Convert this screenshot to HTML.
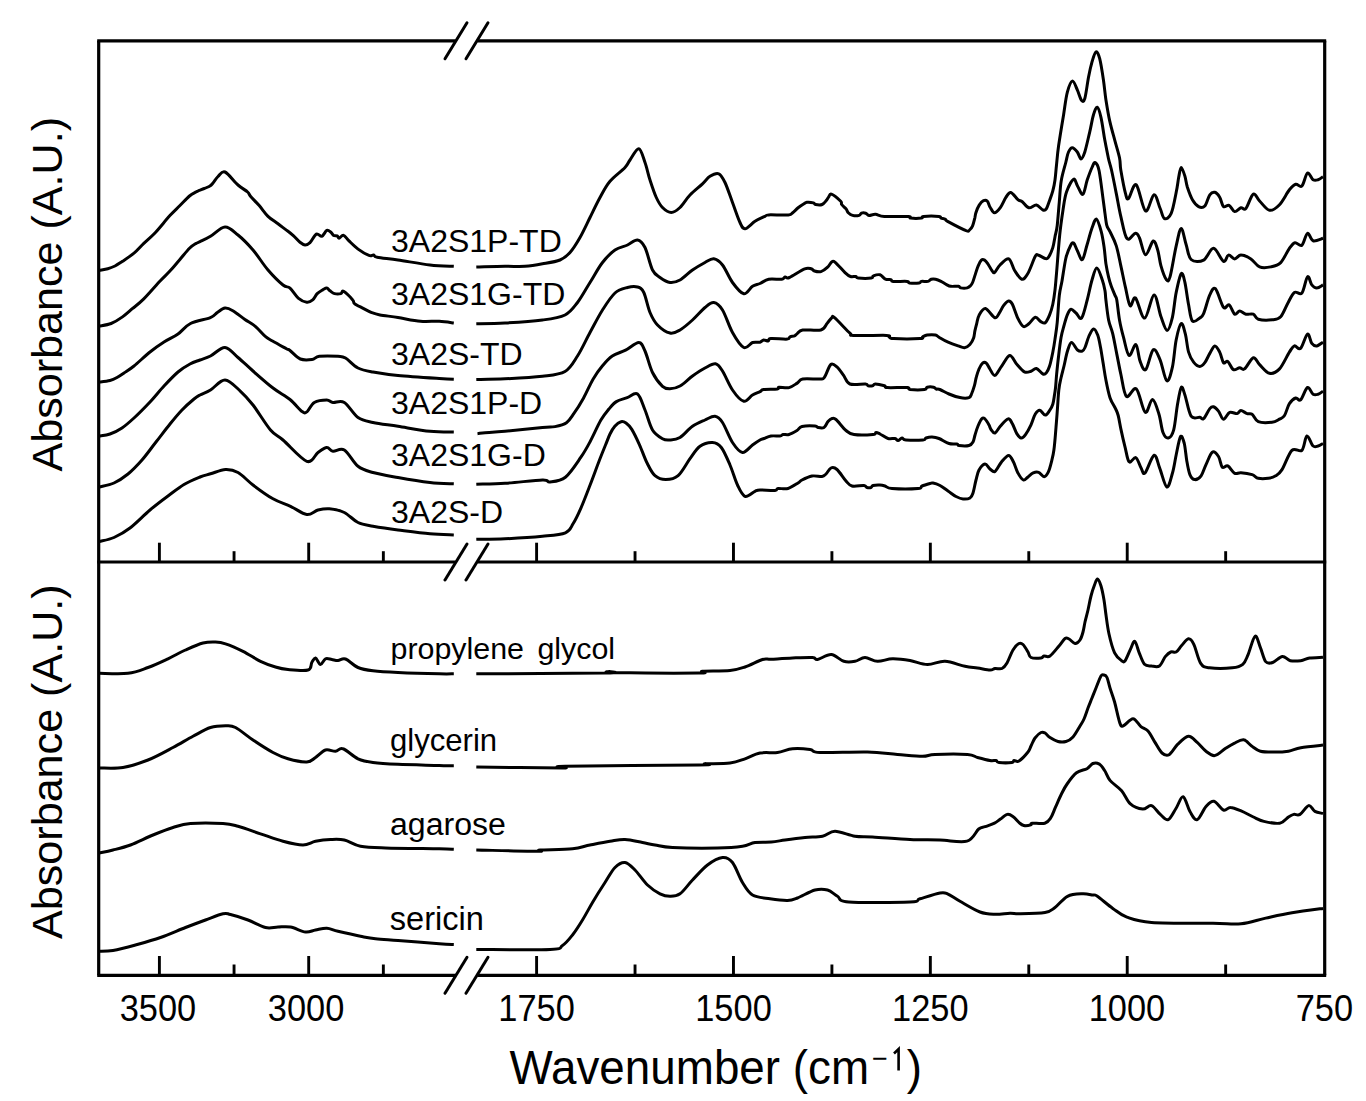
<!DOCTYPE html>
<html><head><meta charset="utf-8"><style>
html,body{margin:0;padding:0;background:#fff;width:1366px;height:1101px;overflow:hidden}
svg{display:block;font-family:"Liberation Sans",sans-serif}
</style></head><body>
<svg width="1366" height="1101" viewBox="0 0 1366 1101">
<rect width="1366" height="1101" fill="#fff"/>
<line x1="97.2" y1="40.8" x2="455.5" y2="40.8" stroke="#000" stroke-width="3.2"/>
<line x1="477.5" y1="40.8" x2="1326.2" y2="40.8" stroke="#000" stroke-width="3.2"/>
<line x1="97.2" y1="562.0" x2="455.5" y2="562.0" stroke="#000" stroke-width="3.2"/>
<line x1="477.5" y1="562.0" x2="1326.2" y2="562.0" stroke="#000" stroke-width="3.2"/>
<line x1="97.2" y1="975.3" x2="455.5" y2="975.3" stroke="#000" stroke-width="3.2"/>
<line x1="477.5" y1="975.3" x2="1326.2" y2="975.3" stroke="#000" stroke-width="3.2"/>
<line x1="98.7" y1="40.8" x2="98.7" y2="975.3" stroke="#000" stroke-width="3.2"/>
<line x1="1324.7" y1="40.8" x2="1324.7" y2="975.3" stroke="#000" stroke-width="3.2"/>
<line x1="445.0" y1="58.8" x2="467.0" y2="22.799999999999997" stroke="#000" stroke-width="3" stroke-linecap="round"/>
<line x1="466.0" y1="58.8" x2="488.0" y2="22.799999999999997" stroke="#000" stroke-width="3" stroke-linecap="round"/>
<line x1="445.0" y1="580.0" x2="467.0" y2="544.0" stroke="#000" stroke-width="3" stroke-linecap="round"/>
<line x1="466.0" y1="580.0" x2="488.0" y2="544.0" stroke="#000" stroke-width="3" stroke-linecap="round"/>
<line x1="445.0" y1="993.3" x2="467.0" y2="957.3" stroke="#000" stroke-width="3" stroke-linecap="round"/>
<line x1="466.0" y1="993.3" x2="488.0" y2="957.3" stroke="#000" stroke-width="3" stroke-linecap="round"/>
<line x1="159.4" y1="562.0" x2="159.4" y2="542.7" stroke="#000" stroke-width="2.9"/>
<line x1="308.7" y1="562.0" x2="308.7" y2="542.7" stroke="#000" stroke-width="2.9"/>
<line x1="536.6" y1="562.0" x2="536.6" y2="542.7" stroke="#000" stroke-width="2.9"/>
<line x1="733.475" y1="562.0" x2="733.475" y2="542.7" stroke="#000" stroke-width="2.9"/>
<line x1="930.35" y1="562.0" x2="930.35" y2="542.7" stroke="#000" stroke-width="2.9"/>
<line x1="1127.225" y1="562.0" x2="1127.225" y2="542.7" stroke="#000" stroke-width="2.9"/>
<line x1="234.05" y1="562.0" x2="234.05" y2="551.2" stroke="#000" stroke-width="2.9"/>
<line x1="383.35" y1="562.0" x2="383.35" y2="551.2" stroke="#000" stroke-width="2.9"/>
<line x1="635.0375" y1="562.0" x2="635.0375" y2="551.2" stroke="#000" stroke-width="2.9"/>
<line x1="831.9125" y1="562.0" x2="831.9125" y2="551.2" stroke="#000" stroke-width="2.9"/>
<line x1="1028.7875" y1="562.0" x2="1028.7875" y2="551.2" stroke="#000" stroke-width="2.9"/>
<line x1="1225.6625" y1="562.0" x2="1225.6625" y2="551.2" stroke="#000" stroke-width="2.9"/>
<line x1="159.4" y1="975.3" x2="159.4" y2="956.0" stroke="#000" stroke-width="2.9"/>
<line x1="308.7" y1="975.3" x2="308.7" y2="956.0" stroke="#000" stroke-width="2.9"/>
<line x1="536.6" y1="975.3" x2="536.6" y2="956.0" stroke="#000" stroke-width="2.9"/>
<line x1="733.475" y1="975.3" x2="733.475" y2="956.0" stroke="#000" stroke-width="2.9"/>
<line x1="930.35" y1="975.3" x2="930.35" y2="956.0" stroke="#000" stroke-width="2.9"/>
<line x1="1127.225" y1="975.3" x2="1127.225" y2="956.0" stroke="#000" stroke-width="2.9"/>
<line x1="234.05" y1="975.3" x2="234.05" y2="964.5" stroke="#000" stroke-width="2.9"/>
<line x1="383.35" y1="975.3" x2="383.35" y2="964.5" stroke="#000" stroke-width="2.9"/>
<line x1="635.0375" y1="975.3" x2="635.0375" y2="964.5" stroke="#000" stroke-width="2.9"/>
<line x1="831.9125" y1="975.3" x2="831.9125" y2="964.5" stroke="#000" stroke-width="2.9"/>
<line x1="1028.7875" y1="975.3" x2="1028.7875" y2="964.5" stroke="#000" stroke-width="2.9"/>
<line x1="1225.6625" y1="975.3" x2="1225.6625" y2="964.5" stroke="#000" stroke-width="2.9"/>
<text transform="translate(157.9 1021) scale(1 1.1)" font-size="34.4" text-anchor="middle">3500</text>
<text transform="translate(306.1 1021) scale(1 1.1)" font-size="34.4" text-anchor="middle">3000</text>
<text transform="translate(536.6 1021) scale(1 1.1)" font-size="34.4" text-anchor="middle">1750</text>
<text transform="translate(733.5 1021) scale(1 1.1)" font-size="34.4" text-anchor="middle">1500</text>
<text transform="translate(930.3 1021) scale(1 1.1)" font-size="34.4" text-anchor="middle">1250</text>
<text transform="translate(1126.9 1021) scale(1 1.1)" font-size="34.4" text-anchor="middle">1000</text>
<text transform="translate(1324.4 1021) scale(1 1.1)" font-size="34.4" text-anchor="middle">750</text>
<text transform="translate(509.5 1084.3) scale(1 1.055)" font-size="45.8"><tspan>Wavenumber (cm</tspan><tspan font-size="27" dx="3" dy="-15">−</tspan><tspan dy="15" dx="19">)</tspan></text>
<path d="M898.6 1070.6 V1049 L894 1053.5" fill="none" stroke="#000" stroke-width="2.6" stroke-linejoin="miter"/>
<text transform="translate(62 294.25) rotate(-90)" x="0" y="0" font-size="43.1" text-anchor="middle">Absorbance (A.U.)</text>
<text transform="translate(62 761.65) rotate(-90)" x="0" y="0" font-size="43.1" text-anchor="middle">Absorbance (A.U.)</text>
<text x="391" y="251.5" font-size="32">3A2S1P-TD</text>
<text x="391" y="305" font-size="32">3A2S1G-TD</text>
<text x="391" y="364.5" font-size="32">3A2S-TD</text>
<text x="391" y="413.6" font-size="32">3A2S1P-D</text>
<text x="391" y="466.2" font-size="32">3A2S1G-D</text>
<text x="391" y="523.3" font-size="32">3A2S-D</text>
<text x="390.5" y="659" font-size="30.4" word-spacing="5">propylene glycol</text>
<text x="390" y="750.5" font-size="31.1" word-spacing="5">glycerin</text>
<text x="390" y="835.2" font-size="32.1" word-spacing="5">agarose</text>
<text x="389.8" y="929.6" font-size="32.6" word-spacing="5">sericin</text>
<path d="M99.5 270.3 C100.9 270.0 105.2 269.4 107.8 268.7 C110.4 268.0 112.5 267.2 115.0 266.0 C117.5 264.8 119.3 263.4 122.5 261.3 C125.7 259.2 130.4 256.2 134.0 253.2 C137.6 250.2 140.3 246.8 143.8 243.4 C147.3 240.0 150.8 237.3 155.2 232.7 C159.5 228.1 165.8 220.1 169.9 215.6 C174.0 211.1 176.4 209.1 179.7 205.8 C183.0 202.5 186.8 198.3 189.5 196.0 C192.2 193.7 194.3 192.9 196.1 191.9 C197.8 190.9 197.8 191.1 200.0 190.2 C202.2 189.2 207.3 187.4 209.5 186.2 C211.7 185.0 211.6 184.6 213.0 183.0 C214.4 181.4 216.0 178.3 218.0 176.5 C220.0 174.7 221.7 170.6 225.0 172.0 C228.3 173.4 234.2 181.7 238.0 185.0 C241.8 188.3 245.5 190.1 247.6 192.0 C249.7 193.9 248.6 194.1 250.5 196.3 C252.4 198.5 256.1 202.0 259.0 205.3 C261.9 208.6 264.8 213.2 268.0 216.3 C271.2 219.4 274.7 221.3 278.0 223.8 C281.3 226.3 285.4 229.3 288.0 231.3 C290.6 233.3 291.6 234.1 293.6 235.9 C295.6 237.7 298.1 240.8 300.0 242.3 C301.9 243.8 303.3 244.9 305.0 245.0 C306.7 245.1 308.1 244.5 310.0 242.7 C311.9 240.9 314.3 235.2 316.3 234.1 C318.3 233.0 320.1 236.9 321.8 236.3 C323.6 235.7 325.3 231.1 326.8 230.4 C328.3 229.7 329.8 231.5 330.9 232.3 C332.0 233.1 332.6 234.8 333.6 235.4 C334.7 236.0 336.3 235.4 337.2 235.9 C338.1 236.4 337.9 238.3 339.0 238.2 C340.1 238.1 341.9 234.9 343.6 235.4 C345.3 235.9 346.6 238.6 349.0 240.9 C351.4 243.2 354.8 246.7 358.1 249.1 C361.4 251.5 366.4 254.4 369.0 255.4 C371.6 256.4 372.2 254.7 373.6 255.0 C375.0 255.3 373.1 256.4 377.2 257.2 C381.3 258.0 389.2 258.7 398.0 260.0 C406.8 261.3 420.7 263.9 430.0 265.0 C439.3 266.1 449.8 266.1 453.8 266.3 M476.3 267.0 C481.1 266.9 496.9 266.4 505.0 266.3 C513.1 266.2 518.8 266.7 525.0 266.3 C531.2 265.9 536.7 264.9 542.5 263.8 C548.3 262.8 555.4 261.9 560.0 260.0 C564.6 258.1 566.7 256.2 570.0 252.5 C573.3 248.8 576.7 243.3 580.0 237.5 C583.3 231.7 586.7 224.2 590.0 217.5 C593.3 210.8 596.7 203.5 600.0 197.5 C603.3 191.5 605.8 186.3 610.0 181.3 C614.2 176.3 621.7 171.1 625.0 167.5 C628.3 163.9 627.7 163.1 630.0 160.0 C632.3 156.9 636.3 148.4 638.8 148.8 C641.3 149.2 643.1 157.3 645.0 162.5 C646.9 167.7 648.1 174.2 650.0 180.0 C651.9 185.8 654.2 192.9 656.3 197.5 C658.4 202.1 660.0 205.0 662.5 207.5 C665.0 210.0 668.4 212.5 671.3 212.5 C674.2 212.5 676.9 210.4 680.0 207.5 C683.1 204.6 686.2 198.9 690.0 195.0 C693.8 191.1 699.2 186.9 702.5 183.8 C705.8 180.7 707.3 178.0 710.0 176.3 C712.7 174.6 716.3 172.8 718.8 173.8 C721.3 174.8 722.7 177.7 725.0 182.5 C727.3 187.3 730.0 195.8 732.5 202.5 C735.0 209.2 737.9 218.1 740.0 222.5 C742.1 226.9 742.5 229.0 745.0 228.8 C747.5 228.6 751.7 223.4 755.0 221.3 C758.3 219.2 762.7 217.4 765.0 216.3 C767.3 215.2 764.8 215.1 768.7 214.9 C772.6 214.7 784.3 215.3 788.3 214.9 C792.3 214.5 791.1 213.9 792.7 212.7 C794.3 211.5 796.3 209.2 798.1 207.8 C799.9 206.4 802.1 204.9 803.6 204.0 C805.1 203.1 805.3 202.5 806.9 202.3 C808.5 202.1 811.9 202.5 813.4 202.9 C814.9 203.3 814.1 204.2 815.6 204.5 C817.1 204.8 820.3 205.2 822.1 204.5 C823.9 203.8 825.4 201.5 826.5 200.2 C827.6 198.9 827.9 197.9 828.7 196.9 C829.5 195.9 829.4 193.5 831.4 194.2 C833.4 194.9 839.0 199.6 840.7 201.3 C842.4 203.0 840.8 203.2 841.7 204.5 C842.6 205.8 845.0 207.5 846.1 208.9 C847.2 210.3 847.2 211.6 848.3 212.7 C849.4 213.8 850.8 214.9 852.6 215.4 C854.4 215.9 857.7 215.8 859.2 215.4 C860.7 215.0 860.3 213.6 861.4 213.2 C862.5 212.8 864.4 212.8 865.7 213.2 C867.0 213.6 867.4 215.2 869.0 215.4 C870.6 215.6 872.9 214.1 875.5 214.3 C878.1 214.5 878.9 216.1 884.4 216.5 C889.9 216.9 903.9 216.2 908.3 216.5 C912.6 216.8 908.3 217.8 910.5 218.1 C912.7 218.4 919.2 218.4 921.4 218.1 C923.6 217.8 920.7 216.8 923.6 216.5 C926.5 216.2 936.0 216.2 938.9 216.5 C941.8 216.8 939.9 217.7 941.0 218.1 C942.1 218.5 944.3 218.6 945.4 219.2 C946.5 219.8 944.1 219.5 947.6 221.4 C951.1 223.3 962.5 229.2 966.1 230.7 C969.7 232.1 968.3 230.9 969.4 230.1 C970.5 229.3 971.7 227.8 972.6 225.8 C973.5 223.8 974.2 220.3 974.8 218.1 C975.3 215.9 975.2 214.9 975.9 212.7 C976.6 210.5 977.9 207.1 979.2 205.1 C980.5 203.1 982.1 201.3 983.5 200.7 C984.9 200.1 986.3 200.2 987.4 201.3 C988.5 202.4 988.9 205.3 990.1 207.2 C991.3 209.1 992.7 212.7 994.4 212.7 C996.1 212.7 998.6 209.9 1000.5 207.3 C1002.4 204.8 1004.2 199.9 1005.9 197.4 C1007.6 194.9 1008.8 192.1 1010.8 192.5 C1012.8 192.9 1016.0 198.0 1017.9 199.6 C1019.8 201.2 1020.5 200.4 1022.3 201.8 C1024.1 203.2 1026.4 207.2 1028.8 207.8 C1031.2 208.4 1034.0 204.7 1036.4 205.1 C1038.8 205.5 1041.3 209.4 1043.0 210.0 C1044.7 210.6 1045.2 210.5 1046.3 208.9 C1047.4 207.3 1048.4 203.7 1049.5 200.7 C1050.6 197.7 1051.9 194.3 1052.8 190.9 C1053.7 187.5 1054.4 184.3 1055.0 180.0 C1055.6 175.7 1055.9 170.7 1056.5 165.0 C1057.1 159.3 1057.4 154.2 1058.6 145.8 C1059.8 137.4 1062.1 123.6 1063.6 114.7 C1065.0 105.8 1065.8 97.9 1067.3 92.3 C1068.8 86.7 1070.6 81.5 1072.3 81.1 C1074.0 80.7 1075.8 86.6 1077.3 89.8 C1078.8 93.0 1080.3 99.0 1081.6 100.4 C1082.8 101.9 1083.6 102.3 1084.8 98.5 C1086.0 94.7 1087.3 83.5 1088.5 77.3 C1089.7 71.1 1091.0 65.5 1092.2 61.2 C1093.5 57.0 1094.8 52.2 1096.0 51.8 C1097.2 51.4 1098.5 54.0 1099.7 58.7 C1100.9 63.4 1102.4 73.0 1103.4 79.8 C1104.4 86.6 1104.9 92.8 1105.9 99.7 C1107.0 106.6 1108.2 114.2 1109.7 120.9 C1111.2 127.6 1112.9 133.4 1114.6 139.6 C1116.2 145.8 1118.6 153.1 1119.6 158.2 C1120.6 163.3 1119.8 164.2 1120.8 170.0 C1121.8 175.8 1124.1 188.3 1125.4 193.1 C1126.7 197.8 1126.7 199.9 1128.5 198.5 C1130.3 197.1 1133.4 182.6 1136.2 184.7 C1139.0 186.8 1142.5 209.2 1145.5 210.9 C1148.5 212.6 1151.6 195.2 1154.0 194.7 C1156.4 194.2 1158.2 204.0 1160.0 208.0 C1161.8 212.0 1162.6 217.7 1164.5 218.6 C1166.4 219.5 1169.2 217.8 1171.2 213.4 C1173.2 209.0 1175.0 198.3 1176.2 192.3 C1177.5 186.3 1177.9 181.5 1178.7 177.3 C1179.5 173.2 1180.2 167.6 1181.2 167.4 C1182.2 167.2 1183.9 172.8 1184.9 176.1 C1185.9 179.4 1186.2 183.4 1187.4 187.3 C1188.7 191.2 1190.5 196.5 1192.4 199.7 C1194.3 202.9 1196.5 205.5 1198.6 206.6 C1200.7 207.7 1202.9 208.0 1204.8 206.0 C1206.7 204.0 1208.1 197.1 1209.8 194.8 C1211.5 192.5 1213.1 191.9 1214.8 192.3 C1216.5 192.7 1218.2 194.8 1219.7 197.2 C1221.2 199.6 1221.9 205.2 1223.5 206.6 C1225.1 207.9 1227.2 204.5 1229.1 205.3 C1231.0 206.1 1232.7 211.2 1234.7 211.6 C1236.7 212.0 1239.0 208.3 1240.9 207.8 C1242.8 207.3 1243.8 210.8 1245.9 208.5 C1248.0 206.2 1251.0 195.3 1253.3 194.1 C1255.6 192.8 1256.9 198.3 1259.6 201.0 C1262.3 203.7 1266.2 209.7 1269.5 210.3 C1272.8 210.9 1276.2 208.1 1279.5 204.7 C1282.8 201.3 1286.7 193.2 1289.4 189.8 C1292.1 186.4 1293.6 184.8 1295.7 184.2 C1297.8 183.6 1299.9 187.9 1301.9 186.0 C1303.9 184.1 1305.6 174.0 1307.5 173.0 C1309.4 172.0 1311.3 178.7 1313.1 179.8 C1314.9 180.9 1316.4 180.3 1318.1 179.8 C1319.8 179.3 1322.2 177.2 1323.0 176.7" fill="none" stroke="#000" stroke-width="3" stroke-linejoin="round"/>
<path d="M99.5 326.0 C101.4 325.6 107.3 325.0 111.1 323.5 C114.9 322.0 119.0 319.4 122.5 316.9 C126.0 314.4 128.8 311.7 132.3 308.7 C135.9 305.7 139.2 303.5 143.8 298.9 C148.4 294.3 155.8 285.6 160.1 281.0 C164.4 276.4 166.6 274.7 169.9 271.1 C173.2 267.6 176.4 263.5 179.7 259.7 C183.0 255.9 186.8 251.0 189.5 248.3 C192.2 245.6 194.3 244.5 196.1 243.4 C197.8 242.3 197.6 242.9 200.0 241.7 C202.4 240.5 206.3 238.8 210.5 236.3 C214.7 233.9 220.4 227.2 225.0 227.0 C229.6 226.8 233.3 231.2 238.0 235.0 C242.7 238.8 248.0 244.2 253.0 250.0 C258.0 255.8 263.0 264.2 268.0 270.0 C273.0 275.8 279.3 282.0 283.0 285.0 C286.7 288.0 287.5 285.9 290.0 288.1 C292.5 290.3 295.4 295.8 298.2 298.1 C301.0 300.5 304.4 301.9 306.8 302.2 C309.2 302.5 311.0 301.3 312.7 299.9 C314.4 298.5 315.5 295.3 317.2 293.6 C318.9 291.9 321.1 290.8 322.7 289.9 C324.3 289.0 325.6 288.0 326.8 288.1 C328.0 288.2 328.7 289.9 330.0 290.8 C331.3 291.7 332.7 293.1 334.5 293.6 C336.3 294.1 339.4 294.0 340.9 293.6 C342.4 293.2 341.6 290.2 343.6 291.3 C345.6 292.4 350.9 297.8 352.7 299.9 C354.5 301.9 352.8 302.2 354.5 303.6 C356.2 305.0 359.8 306.6 362.7 308.1 C365.6 309.6 368.8 311.5 371.7 312.6 C374.6 313.7 375.6 314.1 380.0 314.9 C384.4 315.7 391.2 316.4 398.0 317.5 C404.8 318.6 413.6 320.7 420.5 321.3 C427.4 321.9 433.8 321.0 439.3 321.3 C444.9 321.6 451.4 322.7 453.8 323.0 M476.3 323.8 C481.1 323.7 494.0 323.6 505.0 323.0 C516.0 322.4 532.5 321.3 542.5 320.0 C552.5 318.7 559.2 317.9 565.0 315.0 C570.8 312.1 573.3 307.9 577.5 302.5 C581.7 297.1 585.8 289.2 590.0 282.5 C594.2 275.8 598.3 267.9 602.5 262.5 C606.7 257.1 610.8 252.9 615.0 250.0 C619.2 247.1 623.8 246.7 627.5 245.0 C631.2 243.3 634.6 239.6 637.5 240.0 C640.4 240.4 642.5 242.5 645.0 247.5 C647.5 252.5 650.0 265.0 652.5 270.0 C655.0 275.0 657.1 275.4 660.0 277.5 C662.9 279.6 666.7 282.1 670.0 282.5 C673.3 282.9 676.2 282.1 680.0 280.0 C683.8 277.9 688.3 272.9 692.5 270.0 C696.7 267.1 701.5 264.4 705.0 262.5 C708.5 260.6 710.9 258.4 713.8 258.8 C716.7 259.2 719.4 261.1 722.5 265.0 C725.6 268.9 729.0 277.7 732.5 282.5 C736.0 287.3 740.5 293.2 743.8 293.8 C747.1 294.4 749.8 288.0 752.5 286.3 C755.2 284.6 757.3 284.7 760.0 283.5 C762.7 282.3 765.1 279.9 768.7 279.2 C772.3 278.5 779.1 279.6 781.8 279.2 C784.5 278.8 783.8 277.3 785.1 277.0 C786.4 276.7 786.1 278.9 789.4 277.5 C792.7 276.1 801.1 270.2 804.7 268.8 C808.3 267.4 809.6 268.4 811.2 268.8 C812.8 269.2 812.9 270.5 814.5 271.0 C816.1 271.5 818.8 272.2 821.0 271.6 C823.2 271.0 825.8 268.9 827.6 267.2 C829.4 265.5 830.6 262.5 831.9 261.7 C833.2 260.9 833.0 260.5 835.2 262.3 C837.4 264.1 842.5 270.2 845.0 272.6 C847.5 275.0 848.7 275.9 850.5 276.5 C852.3 277.1 854.6 276.2 855.9 276.5 C857.2 276.8 855.5 277.8 858.1 278.1 C860.7 278.4 868.7 278.5 871.2 278.1 C873.8 277.7 871.9 276.4 873.4 275.9 C874.9 275.3 878.0 274.2 880.0 274.8 C882.0 275.4 883.6 278.4 885.4 279.2 C887.2 280.0 889.6 279.3 890.9 279.7 C892.2 280.1 890.4 281.1 893.1 281.4 C895.8 281.7 904.5 281.1 907.2 281.4 C909.9 281.7 907.4 282.7 909.4 283.0 C911.4 283.3 917.2 283.3 919.2 283.0 C921.2 282.7 919.9 281.7 921.4 281.4 C922.9 281.1 926.4 281.8 928.0 281.4 C929.6 281.0 929.9 279.6 931.2 279.2 C932.5 278.8 934.0 278.8 935.6 279.2 C937.2 279.6 939.2 280.5 941.0 281.4 C942.8 282.3 944.9 283.8 946.5 284.6 C948.1 285.4 948.8 286.0 950.8 286.3 C952.8 286.6 956.9 286.0 958.5 286.3 C960.1 286.6 959.2 287.6 960.7 287.9 C962.2 288.2 965.6 288.3 967.2 287.9 C968.8 287.5 969.6 286.6 970.5 285.7 C971.4 284.8 971.9 284.1 972.6 282.5 C973.3 280.9 973.9 278.6 974.8 275.9 C975.7 273.2 977.0 268.7 978.1 266.1 C979.2 263.5 980.3 261.1 981.4 260.1 C982.5 259.1 983.5 259.5 984.6 260.1 C985.7 260.7 986.8 262.3 987.9 263.9 C989.0 265.4 990.1 267.9 991.2 269.4 C992.3 270.8 992.9 273.3 994.4 272.6 C995.9 271.9 997.6 267.3 1000.0 265.0 C1002.4 262.7 1006.4 257.9 1008.8 258.8 C1011.2 259.7 1012.5 267.1 1014.6 270.5 C1016.8 273.9 1019.5 278.6 1021.7 279.2 C1023.9 279.8 1025.4 277.6 1027.7 273.8 C1030.0 270.0 1033.5 259.4 1035.3 256.3 C1037.1 253.2 1036.9 254.8 1038.6 255.2 C1040.2 255.6 1043.6 258.1 1045.2 258.5 C1046.8 258.9 1047.1 259.2 1048.4 257.4 C1049.7 255.6 1051.7 251.0 1052.8 247.6 C1053.9 244.2 1054.3 240.3 1055.0 236.7 C1055.7 233.1 1056.5 231.6 1057.2 225.8 C1057.9 220.0 1058.6 209.3 1059.3 201.8 C1060.0 194.3 1060.1 187.5 1061.2 180.9 C1062.3 174.3 1064.7 166.8 1065.9 162.0 C1067.1 157.2 1067.4 154.4 1068.5 152.0 C1069.6 149.6 1070.8 147.7 1072.3 147.7 C1073.8 147.7 1075.8 150.1 1077.3 152.0 C1078.8 153.9 1079.8 158.9 1081.0 158.9 C1082.2 158.9 1083.3 156.5 1084.8 152.0 C1086.2 147.5 1088.2 138.3 1089.7 132.1 C1091.2 125.9 1092.2 118.8 1093.5 114.7 C1094.8 110.6 1096.0 106.8 1097.2 107.2 C1098.4 107.6 1099.7 111.8 1100.9 117.2 C1102.2 122.6 1103.5 132.8 1104.7 139.6 C1106.0 146.4 1107.3 153.1 1108.4 158.2 C1109.5 163.3 1110.2 164.2 1111.5 170.0 C1112.8 175.8 1114.7 185.4 1116.2 193.1 C1117.8 200.8 1119.0 208.7 1120.8 216.3 C1122.6 223.9 1124.5 235.8 1127.0 238.6 C1129.5 241.4 1133.4 233.3 1135.5 233.2 C1137.6 233.1 1137.8 234.4 1139.5 238.0 C1141.2 241.6 1143.2 254.3 1145.5 254.8 C1147.8 255.3 1151.2 241.8 1153.2 241.0 C1155.2 240.2 1156.4 245.9 1157.7 250.0 C1159.0 254.1 1159.5 260.7 1160.9 265.6 C1162.3 270.5 1164.8 277.6 1166.3 279.5 C1167.8 281.4 1168.3 282.5 1170.0 276.9 C1171.7 271.3 1174.3 253.9 1176.2 245.8 C1178.1 237.7 1179.6 228.6 1181.2 228.4 C1182.8 228.2 1184.4 239.3 1186.1 244.5 C1187.8 249.7 1188.2 256.9 1191.1 259.5 C1194.0 262.1 1199.9 262.0 1203.6 260.1 C1207.3 258.2 1210.2 248.1 1213.5 248.3 C1216.8 248.5 1221.0 260.2 1223.5 261.3 C1226.0 262.4 1226.6 255.5 1228.5 255.1 C1230.4 254.7 1232.6 258.9 1234.7 258.9 C1236.8 258.9 1238.2 255.1 1240.9 255.1 C1243.6 255.1 1247.8 256.9 1250.9 258.9 C1254.0 260.9 1256.3 265.6 1259.6 266.9 C1262.9 268.2 1267.3 267.6 1270.8 266.9 C1274.3 266.2 1277.6 265.7 1280.7 262.6 C1283.8 259.5 1287.0 251.6 1289.4 248.3 C1291.8 245.0 1292.9 243.2 1295.0 242.7 C1297.1 242.2 1299.8 246.8 1301.9 245.2 C1304.0 243.6 1305.6 234.0 1307.5 233.3 C1309.4 232.6 1310.5 240.0 1313.1 240.8 C1315.7 241.6 1321.3 238.7 1323.0 238.3" fill="none" stroke="#000" stroke-width="3" stroke-linejoin="round"/>
<path d="M99.5 382.0 C101.2 381.8 107.1 381.2 110.0 380.5 C112.9 379.8 114.7 378.8 117.0 377.5 C119.3 376.2 121.2 374.9 124.0 373.0 C126.8 371.1 129.7 369.5 134.0 366.0 C138.3 362.5 145.0 356.0 150.0 352.0 C155.0 348.0 159.3 345.0 164.0 342.0 C168.7 339.0 173.6 337.1 178.0 334.0 C182.4 330.9 185.1 326.2 190.5 323.5 C195.9 320.8 205.9 319.4 210.4 317.6 C214.9 315.8 214.9 314.1 217.3 312.5 C219.7 310.9 222.4 308.4 225.0 308.1 C227.6 307.8 229.5 308.8 232.8 310.7 C236.1 312.6 241.2 316.8 244.9 319.4 C248.7 322.0 251.9 323.4 255.3 326.3 C258.8 329.2 262.7 334.2 265.6 336.6 C268.5 339.1 269.0 339.0 272.5 341.0 C276.0 343.0 283.5 347.1 286.4 348.7 C289.3 350.3 287.7 348.8 290.0 350.5 C292.3 352.2 296.6 357.5 300.3 359.0 C304.0 360.5 308.8 359.9 312.0 359.5 C315.2 359.1 315.0 356.8 319.3 356.3 C323.6 355.8 333.6 356.0 338.0 356.3 C342.4 356.6 342.2 356.1 345.5 358.0 C348.8 359.9 353.4 365.7 358.0 368.0 C362.6 370.3 366.3 370.8 373.0 372.0 C379.7 373.2 386.9 374.4 398.0 375.5 C409.1 376.6 430.0 377.9 439.3 378.5 C448.6 379.1 451.4 379.2 453.8 379.3 M476.3 379.5 C481.1 379.4 494.0 379.3 505.0 378.8 C516.0 378.3 532.5 377.5 542.5 376.3 C552.5 375.1 559.2 374.9 565.0 371.5 C570.8 368.1 573.3 362.5 577.5 356.0 C581.7 349.5 585.8 340.2 590.0 332.5 C594.2 324.8 598.3 316.6 602.5 310.0 C606.7 303.4 610.8 296.8 615.0 293.0 C619.2 289.2 623.8 288.5 627.5 287.5 C631.2 286.5 634.8 286.2 637.5 287.0 C640.2 287.8 641.7 288.2 643.8 292.5 C645.9 296.8 647.7 307.1 650.0 312.5 C652.3 317.9 654.2 321.6 657.5 325.0 C660.8 328.4 666.2 332.2 670.0 333.0 C673.8 333.8 676.2 332.2 680.0 330.0 C683.8 327.8 688.3 323.8 692.5 320.0 C696.7 316.2 701.5 310.4 705.0 307.5 C708.5 304.6 710.9 302.1 713.8 302.5 C716.7 302.9 719.4 305.0 722.5 310.0 C725.6 315.0 729.0 326.2 732.5 332.5 C736.0 338.8 740.5 345.8 743.8 347.5 C747.1 349.2 749.8 343.4 752.5 342.5 C755.2 341.6 758.1 342.6 760.0 342.2 C761.9 341.8 762.2 340.2 763.6 340.0 C765.0 339.8 767.0 341.1 768.2 340.9 C769.4 340.7 767.7 338.9 770.9 338.6 C774.1 338.3 784.0 339.4 787.2 339.1 C790.4 338.8 788.8 337.3 790.0 336.8 C791.2 336.3 793.3 336.4 794.5 335.9 C795.7 335.4 795.8 334.6 797.2 333.6 C798.6 332.6 798.8 330.6 802.7 330.0 C806.7 329.4 816.8 331.1 820.9 330.0 C825.0 328.9 825.4 325.2 827.2 323.2 C829.0 321.1 830.6 318.6 831.8 317.7 C833.0 316.8 831.5 315.1 834.5 317.7 C837.5 320.3 846.7 330.2 849.9 333.2 C853.1 336.1 847.5 335.0 853.6 335.4 C859.7 335.8 880.5 335.2 886.4 335.4 C892.3 335.6 887.9 336.3 889.1 336.8 C890.3 337.3 888.5 338.3 893.6 338.6 C898.8 338.9 915.1 338.9 920.0 338.6 C924.9 338.3 921.5 337.4 922.7 336.8 C923.9 336.2 925.1 335.3 927.2 335.0 C929.3 334.7 933.4 334.6 935.4 335.0 C937.4 335.4 936.9 336.0 939.0 337.2 C941.1 338.4 944.9 340.8 948.1 342.2 C951.3 343.6 955.4 345.0 958.1 345.9 C960.8 346.8 962.5 347.9 964.5 347.7 C966.5 347.5 968.4 346.1 969.9 344.5 C971.4 342.9 972.8 340.4 973.6 338.1 C974.4 335.8 974.4 333.3 974.9 330.9 C975.4 328.5 976.0 326.2 976.7 323.6 C977.4 321.0 977.5 317.9 979.0 315.4 C980.5 312.9 982.8 308.2 985.4 308.6 C988.0 309.0 992.6 317.0 994.9 317.7 C997.2 318.4 997.9 315.0 999.4 312.9 C1000.9 310.8 1002.2 307.3 1003.7 305.3 C1005.2 303.3 1007.2 301.1 1008.6 300.9 C1010.0 300.7 1010.9 301.3 1012.4 304.2 C1013.9 307.1 1016.1 314.7 1017.9 318.4 C1019.7 322.1 1021.6 325.6 1023.4 326.5 C1025.2 327.4 1026.8 325.3 1028.8 323.8 C1030.8 322.3 1033.3 317.7 1035.3 317.3 C1037.3 316.9 1039.1 320.7 1040.8 321.6 C1042.5 322.5 1043.8 323.8 1045.2 322.7 C1046.7 321.6 1048.2 318.2 1049.5 315.1 C1050.8 312.0 1051.9 308.4 1052.8 304.2 C1053.7 300.0 1054.4 295.1 1055.0 290.0 C1055.6 284.9 1055.7 282.7 1056.5 273.5 C1057.3 264.3 1058.6 245.6 1059.7 235.0 C1060.8 224.4 1061.9 217.2 1063.0 210.0 C1064.1 202.8 1064.7 197.1 1066.5 192.0 C1068.3 186.9 1071.8 180.3 1073.6 179.3 C1075.4 178.3 1076.0 183.5 1077.5 186.0 C1079.0 188.5 1081.3 195.3 1082.9 194.3 C1084.5 193.3 1085.7 184.6 1087.2 180.0 C1088.8 175.4 1090.9 169.9 1092.2 167.0 C1093.5 164.1 1094.2 162.0 1095.3 162.6 C1096.4 163.2 1097.8 164.5 1099.1 170.7 C1100.4 176.9 1102.2 192.8 1103.2 200.0 C1104.2 207.2 1104.4 209.4 1105.0 213.6 C1105.6 217.8 1106.0 222.4 1106.8 225.4 C1107.6 228.4 1108.4 228.3 1110.0 231.7 C1111.6 235.1 1114.4 239.9 1116.2 245.6 C1118.0 251.2 1119.3 258.7 1120.8 265.6 C1122.3 272.5 1123.9 280.5 1125.4 287.2 C1127.0 293.9 1128.4 303.9 1130.1 305.7 C1131.8 307.5 1133.1 295.9 1135.5 298.0 C1137.9 300.1 1141.6 318.6 1144.7 318.1 C1147.8 317.6 1151.3 295.2 1154.0 294.9 C1156.7 294.6 1158.7 310.6 1160.9 316.5 C1163.1 322.4 1165.2 330.3 1167.1 330.4 C1169.0 330.5 1170.9 323.6 1172.4 317.3 C1173.9 311.0 1174.7 299.7 1176.2 292.4 C1177.7 285.1 1179.8 275.4 1181.2 273.7 C1182.7 272.0 1183.7 277.2 1184.9 282.4 C1186.1 287.6 1187.3 298.4 1188.6 304.8 C1189.8 311.2 1190.5 318.8 1192.4 321.0 C1194.3 323.2 1197.9 319.1 1199.8 317.9 C1201.7 316.7 1201.9 317.4 1203.6 313.6 C1205.3 309.8 1207.8 299.0 1209.8 294.9 C1211.8 290.8 1213.1 286.6 1215.4 288.7 C1217.7 290.8 1221.2 304.6 1223.5 307.3 C1225.8 310.0 1227.2 303.7 1229.1 304.8 C1231.0 305.9 1232.9 313.1 1234.7 314.2 C1236.5 315.2 1237.8 311.1 1239.7 311.1 C1241.6 311.1 1243.6 313.7 1245.9 314.2 C1248.2 314.7 1251.2 313.4 1253.3 314.2 C1255.4 315.0 1255.2 318.3 1258.3 319.2 C1261.4 320.1 1268.3 320.2 1272.0 319.8 C1275.7 319.4 1278.0 319.6 1280.7 316.7 C1283.4 313.8 1285.9 306.4 1288.2 302.4 C1290.5 298.3 1292.1 294.0 1294.4 292.4 C1296.7 290.8 1299.7 295.6 1301.9 293.0 C1304.1 290.4 1305.8 278.2 1307.5 276.8 C1309.2 275.4 1310.2 283.0 1311.8 284.9 C1313.3 286.8 1314.9 288.0 1316.8 288.0 C1318.7 288.0 1322.0 285.4 1323.0 284.9" fill="none" stroke="#000" stroke-width="3" stroke-linejoin="round"/>
<path d="M99.5 436.0 C101.2 435.7 106.2 435.3 110.0 434.0 C113.8 432.7 118.0 430.7 122.0 428.0 C126.0 425.3 129.3 422.3 134.0 418.0 C138.7 413.7 145.0 407.3 150.0 402.0 C155.0 396.7 159.3 391.0 164.0 386.0 C168.7 381.0 173.7 375.7 178.0 372.0 C182.3 368.3 186.3 366.0 190.0 364.0 C193.7 362.0 196.6 361.3 200.0 360.0 C203.4 358.7 206.3 358.1 210.5 356.0 C214.7 353.9 220.4 347.2 225.0 347.5 C229.6 347.8 233.3 353.6 238.0 357.5 C242.7 361.4 247.2 365.9 253.0 371.0 C258.8 376.1 266.8 383.2 273.0 388.0 C279.2 392.8 285.1 395.6 290.0 399.5 C294.9 403.4 299.2 409.6 302.1 411.6 C305.0 413.6 305.2 413.1 307.2 411.6 C309.2 410.1 311.0 404.4 314.3 402.5 C317.6 400.6 323.7 400.0 326.8 400.0 C329.9 400.0 330.1 402.1 333.0 402.5 C335.9 402.9 340.1 400.0 344.3 402.5 C348.5 405.0 353.2 414.2 358.0 417.5 C362.8 420.8 366.3 421.0 373.0 422.5 C379.7 424.0 388.5 424.8 398.0 426.3 C407.5 427.8 420.7 430.4 430.0 431.3 C439.3 432.2 449.8 431.9 453.8 432.0 M477.5 433.8 C478.3 433.7 477.9 433.4 482.5 433.0 C487.1 432.6 495.0 432.2 505.0 431.3 C515.0 430.4 534.2 428.3 542.5 427.5 C550.8 426.7 551.0 427.4 555.0 426.6 C559.0 425.8 563.3 424.9 566.5 422.7 C569.7 420.5 571.2 417.3 574.1 413.2 C577.0 409.1 580.4 403.6 583.6 397.9 C586.8 392.2 590.0 384.3 593.2 378.9 C596.4 373.5 599.5 369.3 602.7 365.5 C605.9 361.7 608.5 358.6 612.3 356.0 C616.1 353.4 621.2 352.4 625.6 350.2 C630.0 347.9 635.6 342.4 638.8 342.5 C642.0 342.6 642.7 346.0 645.0 351.0 C647.3 356.0 649.6 366.6 652.5 372.5 C655.4 378.4 659.6 383.6 662.5 386.3 C665.4 389.0 667.1 388.9 670.0 388.8 C672.9 388.8 676.2 388.1 680.0 386.0 C683.8 383.9 688.3 379.0 692.5 376.0 C696.7 373.0 701.2 370.0 705.0 368.0 C708.8 366.0 712.6 363.3 715.5 363.8 C718.4 364.3 719.7 366.6 722.5 371.0 C725.3 375.4 729.0 384.9 732.5 390.0 C736.0 395.1 740.5 400.5 743.8 401.3 C747.1 402.1 749.8 396.6 752.5 395.0 C755.2 393.4 758.1 392.6 760.0 391.7 C761.9 390.8 760.7 389.9 763.6 389.5 C766.5 389.1 774.7 389.4 777.3 389.0 C779.9 388.6 777.1 387.4 779.1 387.2 C781.1 387.0 786.1 388.3 789.1 387.6 C792.1 386.9 794.9 384.5 797.2 383.1 C799.5 381.7 798.9 379.7 802.7 379.0 C806.5 378.3 816.4 379.3 820.0 379.0 C823.6 378.7 822.7 379.6 824.5 377.2 C826.3 374.8 828.7 366.2 830.8 364.5 C832.9 362.8 835.1 365.4 837.2 367.2 C839.3 369.0 841.5 372.6 843.6 375.4 C845.7 378.2 846.3 382.6 849.9 384.0 C853.5 385.4 862.4 383.7 865.4 384.0 C868.4 384.3 866.9 385.5 868.1 385.8 C869.3 386.1 871.4 386.1 872.6 385.8 C873.8 385.5 873.3 384.0 875.3 384.0 C877.3 384.0 882.5 385.2 884.5 385.8 C886.5 386.4 883.5 387.3 887.3 387.6 C891.1 387.9 903.4 387.3 907.2 387.6 C911.0 387.9 907.1 389.2 910.0 389.5 C912.9 389.8 921.6 389.9 924.5 389.5 C927.4 389.1 925.7 387.6 927.2 387.2 C928.7 386.8 932.1 386.9 933.6 387.2 C935.1 387.5 935.2 388.6 936.3 389.0 C937.3 389.4 937.8 388.7 939.9 389.5 C942.0 390.3 945.7 392.6 949.0 394.0 C952.3 395.4 956.6 397.0 959.9 397.6 C963.2 398.2 967.0 398.3 969.0 397.6 C971.0 396.9 970.8 395.5 971.7 393.5 C972.6 391.5 973.7 388.1 974.5 385.4 C975.3 382.7 975.5 379.9 976.3 377.2 C977.0 374.5 978.0 371.4 979.0 369.0 C980.0 366.6 981.4 364.1 982.6 363.1 C983.8 362.1 985.1 362.1 986.3 363.1 C987.5 364.1 988.5 366.9 989.9 369.0 C991.3 371.1 993.0 375.8 994.9 375.4 C996.8 374.9 999.0 369.6 1001.5 366.3 C1004.0 363.0 1007.2 355.8 1009.7 355.4 C1012.2 355.0 1014.3 361.5 1016.8 364.2 C1019.2 366.9 1022.0 370.6 1024.4 371.8 C1026.8 373.0 1029.0 371.8 1031.0 371.2 C1033.0 370.6 1034.4 368.0 1036.4 368.5 C1038.4 369.0 1041.3 373.3 1043.0 374.0 C1044.7 374.7 1045.2 374.2 1046.3 372.9 C1047.4 371.6 1048.4 369.8 1049.5 366.3 C1050.6 362.9 1051.9 356.7 1052.8 352.2 C1053.7 347.7 1054.3 344.0 1055.0 339.1 C1055.7 334.2 1056.5 330.0 1057.2 322.7 C1057.9 315.4 1058.5 302.4 1059.3 295.5 C1060.1 288.6 1060.9 287.2 1062.0 281.0 C1063.1 274.8 1064.5 263.9 1065.9 258.0 C1067.3 252.1 1069.2 248.2 1070.5 245.7 C1071.8 243.2 1072.4 242.1 1073.6 243.0 C1074.8 243.9 1076.0 248.2 1077.5 251.0 C1079.0 253.8 1080.7 260.6 1082.3 259.6 C1083.9 258.6 1085.4 250.3 1087.0 245.0 C1088.6 239.7 1090.4 232.3 1092.0 228.0 C1093.6 223.7 1095.0 218.5 1096.5 219.1 C1098.0 219.7 1100.0 227.1 1101.3 231.8 C1102.6 236.5 1103.3 241.9 1104.1 247.2 C1104.9 252.5 1105.2 258.6 1105.9 263.6 C1106.7 268.6 1107.7 273.4 1108.6 277.2 C1109.5 281.0 1110.2 283.3 1111.3 286.3 C1112.4 289.3 1114.1 293.1 1115.0 295.4 C1115.9 297.7 1116.0 295.9 1116.8 300.0 C1117.5 304.1 1118.4 313.7 1119.5 320.0 C1120.6 326.3 1122.0 331.8 1123.6 337.7 C1125.2 343.6 1127.0 354.4 1129.1 355.5 C1131.1 356.6 1134.1 343.6 1135.9 344.5 C1137.7 345.4 1138.4 356.7 1140.0 360.9 C1141.6 365.1 1143.5 371.5 1145.7 369.7 C1147.9 367.9 1150.8 351.5 1153.2 349.8 C1155.6 348.1 1157.7 354.4 1160.0 359.6 C1162.3 364.8 1164.7 379.6 1166.8 380.8 C1168.9 382.1 1170.8 374.0 1172.4 367.1 C1174.0 360.2 1174.7 347.0 1176.2 339.7 C1177.7 332.4 1179.7 324.3 1181.2 323.5 C1182.8 322.7 1184.3 329.9 1185.5 334.7 C1186.7 339.5 1187.2 347.5 1188.6 352.1 C1189.9 356.7 1191.7 359.7 1193.6 362.1 C1195.5 364.5 1197.9 366.4 1199.8 366.5 C1201.7 366.6 1203.1 364.9 1204.8 362.7 C1206.5 360.5 1208.1 356.2 1209.8 353.4 C1211.5 350.6 1213.1 346.1 1214.8 345.9 C1216.5 345.7 1218.2 349.3 1219.7 352.1 C1221.2 354.9 1222.2 361.1 1223.5 362.7 C1224.8 364.3 1226.1 360.4 1227.8 361.5 C1229.5 362.6 1231.4 368.6 1233.4 369.6 C1235.4 370.6 1237.8 367.8 1239.7 367.7 C1241.6 367.6 1242.3 370.6 1244.6 368.9 C1246.9 367.2 1250.8 358.4 1253.3 357.7 C1255.8 357.0 1256.9 362.0 1259.6 364.6 C1262.3 367.2 1266.2 372.6 1269.5 373.3 C1272.8 374.0 1276.2 372.4 1279.5 368.9 C1282.8 365.4 1286.9 355.9 1289.4 352.1 C1291.9 348.3 1292.5 346.5 1294.4 345.9 C1296.3 345.3 1298.4 350.4 1300.6 348.4 C1302.8 346.4 1305.6 334.9 1307.5 334.1 C1309.4 333.3 1310.2 341.4 1311.8 343.4 C1313.3 345.4 1314.9 346.1 1316.8 345.9 C1318.7 345.7 1322.0 342.8 1323.0 342.2" fill="none" stroke="#000" stroke-width="3" stroke-linejoin="round"/>
<path d="M99.5 487.0 C101.9 486.3 109.2 485.2 114.0 483.0 C118.8 480.8 123.3 477.8 128.0 474.0 C132.7 470.2 137.3 465.3 142.0 460.0 C146.7 454.7 151.3 448.0 156.0 442.0 C160.7 436.0 165.7 429.3 170.0 424.0 C174.3 418.7 178.0 414.2 182.0 410.0 C186.0 405.8 191.0 401.5 194.0 399.0 C197.0 396.5 197.2 396.5 200.0 395.0 C202.8 393.5 206.3 392.5 210.5 390.0 C214.7 387.5 220.0 379.8 225.0 380.0 C230.0 380.2 235.8 387.1 240.5 391.3 C245.2 395.5 248.0 398.6 253.0 405.0 C258.0 411.4 265.5 424.2 270.5 430.0 C275.5 435.8 276.9 434.8 283.0 440.0 C289.1 445.2 301.0 459.2 306.8 461.3 C312.6 463.4 314.7 454.8 318.0 452.5 C321.3 450.2 324.3 447.7 326.8 447.5 C329.3 447.3 330.1 450.9 333.0 451.3 C335.9 451.7 340.1 447.5 344.3 450.0 C348.5 452.5 353.2 462.6 358.0 466.3 C362.8 470.1 366.3 470.6 373.0 472.5 C379.7 474.4 388.5 475.8 398.0 477.5 C407.5 479.2 420.7 481.4 430.0 482.5 C439.3 483.6 449.8 483.6 453.8 483.8 M476.3 484.3 C481.1 484.1 494.0 484.0 505.0 483.3 C516.0 482.6 535.0 480.2 542.5 480.0 C550.0 479.8 546.2 482.4 550.0 481.9 C553.8 481.4 560.2 481.3 565.4 477.2 C570.5 473.1 576.8 463.1 580.9 457.2 C585.0 451.3 586.8 447.9 590.1 441.7 C593.4 435.5 597.8 425.5 600.9 420.1 C604.0 414.7 606.1 412.4 608.7 409.3 C611.3 406.2 613.3 403.5 616.4 401.6 C619.5 399.7 623.7 399.0 627.2 397.7 C630.7 396.4 634.5 391.9 637.5 394.0 C640.5 396.1 642.5 404.0 645.0 410.0 C647.5 416.0 649.6 425.2 652.5 430.0 C655.4 434.8 659.6 437.1 662.5 438.8 C665.4 440.5 667.1 440.2 670.0 440.0 C672.9 439.8 676.2 439.8 680.0 437.5 C683.8 435.2 688.3 429.2 692.5 426.3 C696.7 423.4 701.2 421.7 705.0 420.0 C708.8 418.3 712.1 415.9 715.0 416.3 C717.9 416.7 719.6 418.1 722.5 422.5 C725.4 426.9 729.2 437.5 732.5 442.5 C735.8 447.5 739.2 452.1 742.5 452.5 C745.8 452.9 749.6 447.1 752.5 445.0 C755.4 442.9 758.1 441.1 760.0 440.0 C761.9 438.9 762.2 439.2 764.0 438.5 C765.8 437.8 768.3 436.4 771.0 436.0 C773.7 435.6 778.0 436.2 780.0 436.0 C782.0 435.8 781.5 434.8 783.0 434.5 C784.5 434.2 786.7 435.2 789.0 434.5 C791.3 433.8 794.8 431.8 797.0 430.5 C799.2 429.2 799.0 427.2 802.0 426.5 C805.0 425.8 812.3 425.8 815.0 426.0 C817.7 426.2 816.5 427.2 818.0 427.5 C819.5 427.8 822.3 428.5 824.0 427.5 C825.7 426.5 826.7 423.0 828.0 421.5 C829.3 420.0 830.7 418.8 832.0 418.5 C833.3 418.2 833.7 417.5 836.0 419.5 C838.3 421.5 843.0 428.0 846.0 430.5 C849.0 433.0 849.5 433.8 854.0 434.5 C858.5 435.2 869.3 434.8 873.0 434.5 C876.7 434.2 874.8 432.6 876.0 432.5 C877.2 432.4 878.0 433.0 880.0 434.0 C882.0 435.0 885.5 437.8 888.0 438.5 C890.5 439.2 893.3 438.2 895.0 438.5 C896.7 438.8 896.8 440.6 898.0 440.5 C899.2 440.4 900.7 438.1 902.0 438.0 C903.3 437.9 902.5 439.7 906.0 440.0 C909.5 440.3 919.7 440.3 923.0 440.0 C926.3 439.7 924.5 438.5 926.0 438.0 C927.5 437.5 929.8 436.9 932.0 437.0 C934.2 437.1 936.2 437.4 939.0 438.5 C941.8 439.6 946.0 442.6 949.0 443.5 C952.0 444.4 955.3 443.7 957.0 444.0 C958.7 444.3 957.0 445.2 959.0 445.5 C961.0 445.8 966.7 446.1 969.0 445.5 C971.3 444.9 972.0 443.8 973.0 442.0 C974.0 440.2 974.2 437.7 975.0 435.0 C975.8 432.3 976.8 428.8 978.0 426.0 C979.2 423.2 980.8 419.7 982.0 418.5 C983.2 417.3 983.8 417.9 985.0 419.0 C986.2 420.1 988.0 423.2 989.0 425.0 C990.0 426.8 990.0 428.2 991.0 429.5 C992.0 430.8 993.4 433.6 995.0 433.0 C996.6 432.4 998.3 428.4 1000.5 426.0 C1002.7 423.6 1006.1 419.3 1008.1 418.9 C1010.1 418.5 1011.0 421.4 1012.4 423.8 C1013.8 426.2 1015.3 431.2 1016.8 433.6 C1018.3 436.0 1019.8 437.8 1021.2 438.0 C1022.7 438.2 1023.9 436.9 1025.5 434.7 C1027.1 432.5 1029.4 428.3 1031.0 424.9 C1032.6 421.4 1033.8 416.4 1035.3 414.0 C1036.8 411.6 1038.0 410.0 1039.7 410.2 C1041.4 410.4 1043.6 415.0 1045.2 415.1 C1046.8 415.2 1048.2 412.5 1049.5 410.7 C1050.8 408.9 1052.0 406.7 1052.8 404.2 C1053.6 401.7 1054.0 398.2 1054.4 395.5 C1054.9 392.8 1055.1 391.5 1055.5 388.0 C1055.9 384.5 1056.1 380.0 1056.6 374.7 C1057.1 369.4 1057.8 362.2 1058.6 356.0 C1059.3 349.8 1060.2 342.5 1061.1 337.3 C1062.0 332.1 1063.2 328.6 1064.2 324.9 C1065.2 321.2 1066.2 317.5 1067.3 314.9 C1068.4 312.3 1069.6 309.6 1071.1 309.3 C1072.5 309.0 1074.2 311.6 1076.0 313.0 C1077.8 314.4 1079.7 320.2 1081.6 318.0 C1083.5 315.8 1085.5 306.3 1087.2 300.0 C1088.9 293.7 1090.4 285.3 1092.0 280.0 C1093.6 274.7 1095.1 268.1 1096.8 268.1 C1098.5 268.1 1100.9 276.1 1102.3 279.9 C1103.7 283.7 1104.4 287.4 1105.0 290.8 C1105.6 294.2 1105.3 295.1 1105.9 300.0 C1106.5 304.9 1107.5 314.4 1108.6 320.0 C1109.7 325.6 1111.3 327.9 1112.7 333.6 C1114.1 339.3 1115.4 347.3 1116.8 354.1 C1118.2 360.9 1119.3 367.4 1120.9 374.5 C1122.5 381.6 1123.8 394.0 1126.4 396.4 C1129.0 398.8 1133.2 386.2 1136.3 388.9 C1139.4 391.5 1142.5 410.6 1145.2 412.3 C1147.9 414.1 1150.2 399.1 1152.5 399.4 C1154.8 399.7 1157.2 408.5 1158.9 414.0 C1160.7 419.5 1161.4 428.5 1163.0 432.5 C1164.6 436.5 1166.5 438.4 1168.3 438.0 C1170.1 437.6 1172.2 435.3 1173.7 429.8 C1175.2 424.3 1176.2 411.9 1177.4 404.9 C1178.7 397.8 1180.0 389.2 1181.2 387.5 C1182.5 385.8 1183.2 390.1 1184.9 394.9 C1186.6 399.7 1188.6 412.4 1191.1 416.1 C1193.6 419.8 1197.7 416.9 1199.8 417.3 C1201.9 417.7 1201.9 420.1 1203.6 418.6 C1205.3 417.2 1208.1 410.6 1209.8 408.6 C1211.5 406.6 1212.0 406.4 1213.5 406.8 C1215.0 407.2 1216.8 409.0 1218.5 411.1 C1220.2 413.2 1221.6 419.0 1223.5 419.2 C1225.4 419.4 1227.4 413.3 1229.7 412.4 C1232.0 411.5 1235.3 413.9 1237.2 413.6 C1239.1 413.3 1239.2 410.5 1240.9 410.5 C1242.6 410.5 1245.2 413.0 1247.1 413.6 C1249.0 414.2 1250.2 412.9 1252.1 414.2 C1254.0 415.5 1255.0 420.3 1258.3 421.7 C1261.6 423.1 1268.5 422.7 1272.0 422.3 C1275.5 421.9 1277.4 420.3 1279.5 419.2 C1281.6 418.1 1282.8 418.1 1284.5 415.5 C1286.2 412.9 1287.5 406.5 1289.4 403.6 C1291.3 400.7 1293.8 398.6 1295.7 398.0 C1297.6 397.4 1298.6 401.6 1300.6 399.9 C1302.6 398.1 1305.4 388.4 1307.5 387.5 C1309.6 386.6 1311.3 393.2 1313.1 394.3 C1314.9 395.4 1316.4 394.8 1318.1 394.3 C1319.8 393.8 1322.2 391.7 1323.0 391.2" fill="none" stroke="#000" stroke-width="3" stroke-linejoin="round"/>
<path d="M99.5 541.5 C101.9 540.8 108.9 539.8 114.0 537.5 C119.1 535.2 124.0 532.6 130.0 528.0 C136.0 523.4 143.7 515.3 150.0 510.0 C156.3 504.7 162.3 500.2 168.0 496.0 C173.7 491.8 178.7 487.7 184.0 484.5 C189.3 481.3 195.6 478.8 200.0 477.0 C204.4 475.2 206.2 475.1 210.5 473.8 C214.8 472.6 220.9 469.7 225.5 469.5 C230.1 469.3 233.4 469.9 238.0 472.5 C242.6 475.1 247.2 480.6 253.0 485.0 C258.8 489.4 266.8 495.2 273.0 498.8 C279.2 502.4 284.9 503.7 290.5 506.3 C296.1 508.9 302.2 513.9 306.8 514.5 C311.4 515.1 314.2 510.9 318.0 510.0 C321.8 509.1 324.9 508.4 329.3 508.8 C333.7 509.2 339.5 510.2 344.3 512.5 C349.1 514.8 353.2 520.2 358.0 522.5 C362.8 524.8 366.3 525.0 373.0 526.3 C379.7 527.5 388.5 528.8 398.0 530.0 C407.5 531.2 420.7 533.0 430.0 533.8 C439.3 534.6 449.8 534.8 453.8 535.0 M476.3 539.3 C481.1 539.2 494.0 539.3 505.0 538.8 C516.0 538.3 532.4 537.3 542.5 536.3 C552.6 535.3 560.3 534.9 565.4 532.8 C570.5 530.7 570.6 527.6 573.2 523.5 C575.8 519.4 578.1 514.5 580.9 508.1 C583.7 501.7 587.0 493.0 590.1 485.0 C593.2 477.0 596.8 467.0 599.4 460.3 C602.0 453.6 603.8 449.2 605.6 444.8 C607.4 440.4 608.5 437.1 610.0 434.0 C611.5 430.9 613.0 428.4 614.8 426.3 C616.6 424.2 619.1 422.2 621.0 421.7 C622.9 421.1 624.2 421.7 626.0 423.0 C627.8 424.3 629.5 425.8 631.8 429.4 C634.0 433.0 636.9 439.1 639.5 444.8 C642.1 450.5 644.6 458.2 647.2 463.3 C649.8 468.4 651.9 473.0 655.0 475.7 C658.1 478.4 661.9 479.6 665.8 479.6 C669.6 479.6 674.1 479.2 678.1 475.7 C682.1 472.2 686.4 463.6 690.0 458.7 C693.6 453.8 696.2 449.0 700.0 446.3 C703.8 443.6 709.0 442.3 712.5 442.5 C716.0 442.7 718.4 443.8 721.3 447.5 C724.2 451.2 727.3 458.8 730.0 465.0 C732.7 471.2 735.0 479.8 737.5 485.0 C740.0 490.2 742.1 495.2 745.0 496.3 C747.9 497.4 752.5 492.4 755.0 491.3 C757.5 490.2 756.7 490.1 760.0 490.0 C763.3 489.9 772.0 490.8 775.0 490.5 C778.0 490.2 775.8 488.8 778.0 488.5 C780.2 488.2 784.7 489.4 788.0 488.5 C791.3 487.6 795.7 484.4 798.0 483.0 C800.3 481.6 799.7 481.2 802.0 480.0 C804.3 478.8 808.7 476.6 812.0 476.0 C815.3 475.4 819.7 476.8 822.0 476.5 C824.3 476.2 824.5 475.4 826.0 474.0 C827.5 472.6 829.2 468.8 831.0 468.0 C832.8 467.2 834.5 467.3 837.0 469.5 C839.5 471.7 843.5 478.2 846.0 481.0 C848.5 483.8 849.0 485.2 852.0 486.0 C855.0 486.8 861.5 485.2 864.0 485.5 C866.5 485.8 865.8 487.2 867.0 487.5 C868.2 487.8 870.0 487.8 871.0 487.5 C872.0 487.2 871.5 485.9 873.0 485.5 C874.5 485.1 878.0 484.9 880.0 485.0 C882.0 485.1 883.0 485.4 885.0 486.0 C887.0 486.6 886.5 488.1 892.0 488.5 C897.5 488.9 913.0 488.9 918.0 488.5 C923.0 488.1 920.0 486.8 922.0 486.0 C924.0 485.2 928.2 484.0 930.0 483.5 C931.8 483.0 931.3 482.7 933.0 483.0 C934.7 483.3 937.5 484.2 940.0 485.5 C942.5 486.8 945.3 489.2 948.0 491.0 C950.7 492.8 953.5 495.2 956.0 496.5 C958.5 497.8 960.7 498.8 963.0 499.0 C965.3 499.2 968.3 499.0 970.0 498.0 C971.7 497.0 972.0 496.0 973.0 493.0 C974.0 490.0 975.0 483.8 976.0 480.0 C977.0 476.2 977.5 472.7 979.0 470.0 C980.5 467.3 983.2 464.2 985.0 464.0 C986.8 463.8 988.3 467.8 990.0 469.0 C991.7 470.2 993.1 472.7 995.0 471.5 C996.9 470.3 999.2 464.7 1001.5 462.0 C1003.8 459.3 1006.6 455.4 1008.6 455.4 C1010.6 455.4 1012.0 459.1 1013.5 462.0 C1015.0 464.9 1016.2 469.9 1017.9 472.9 C1019.5 475.9 1021.8 479.3 1023.4 480.0 C1025.0 480.7 1026.1 478.4 1027.7 477.2 C1029.3 476.0 1031.4 473.7 1033.2 472.9 C1035.0 472.1 1036.8 471.7 1038.6 472.3 C1040.4 472.9 1042.5 476.8 1044.1 476.7 C1045.7 476.6 1047.1 474.4 1048.4 471.8 C1049.7 469.2 1050.8 464.5 1051.7 460.9 C1052.6 457.3 1053.3 454.6 1053.9 450.0 C1054.5 445.4 1055.0 440.0 1055.5 433.6 C1056.0 427.2 1056.7 419.1 1057.2 411.8 C1057.8 404.5 1058.2 395.6 1058.8 390.0 C1059.4 384.4 1060.1 382.0 1061.0 378.0 C1061.9 374.0 1062.9 370.5 1064.0 366.0 C1065.1 361.5 1066.2 354.9 1067.5 351.0 C1068.8 347.1 1069.8 342.7 1071.5 342.5 C1073.2 342.3 1075.7 348.6 1077.5 350.0 C1079.3 351.4 1081.0 351.4 1082.3 351.0 C1083.5 350.6 1083.9 350.0 1085.0 347.5 C1086.1 345.0 1087.6 339.1 1089.0 336.0 C1090.4 332.9 1092.1 329.1 1093.6 328.9 C1095.0 328.7 1096.5 331.9 1097.7 335.0 C1098.9 338.1 1099.6 342.5 1100.5 347.3 C1101.4 352.1 1102.3 358.2 1103.2 363.6 C1104.1 369.1 1104.8 374.3 1105.9 380.0 C1107.0 385.7 1108.4 392.9 1110.0 397.7 C1111.6 402.5 1114.1 405.6 1115.5 408.6 C1116.9 411.6 1117.3 412.1 1118.2 415.5 C1119.1 418.9 1119.8 423.9 1120.9 429.1 C1122.0 434.3 1123.6 441.4 1125.0 446.8 C1126.4 452.2 1127.3 460.0 1129.1 461.8 C1130.9 463.6 1133.9 456.6 1135.9 457.7 C1137.9 458.8 1139.6 465.6 1141.1 468.1 C1142.6 470.7 1142.8 475.1 1145.0 473.0 C1147.2 470.9 1151.6 456.0 1154.1 455.2 C1156.5 454.4 1157.6 462.8 1159.7 468.1 C1161.8 473.4 1164.7 486.1 1166.8 487.0 C1168.9 487.9 1170.8 478.7 1172.4 473.3 C1174.0 467.9 1174.9 460.8 1176.2 454.7 C1177.5 448.6 1179.2 438.5 1180.5 436.6 C1181.8 434.7 1183.2 439.4 1184.3 443.5 C1185.3 447.6 1185.9 455.7 1186.8 460.9 C1187.7 466.1 1188.6 471.5 1189.9 474.6 C1191.2 477.7 1192.9 479.4 1194.8 479.6 C1196.7 479.8 1199.2 478.3 1201.1 475.8 C1203.0 473.3 1204.1 468.5 1206.0 464.6 C1207.9 460.7 1210.2 453.6 1212.3 452.2 C1214.4 450.8 1216.8 454.0 1218.5 456.5 C1220.2 459.0 1220.7 465.5 1222.2 467.1 C1223.8 468.7 1225.7 464.9 1227.8 465.9 C1229.9 466.9 1232.5 472.2 1234.7 473.3 C1236.9 474.4 1238.0 472.5 1240.9 472.7 C1243.8 472.9 1249.2 473.7 1252.1 474.6 C1255.0 475.5 1255.6 477.7 1258.3 478.3 C1261.0 478.9 1265.4 478.7 1268.3 478.3 C1271.2 477.9 1273.4 477.2 1275.7 475.8 C1278.0 474.4 1279.3 473.9 1282.0 469.6 C1284.7 465.4 1288.6 453.5 1291.9 450.3 C1295.2 447.1 1299.4 452.7 1301.9 450.3 C1304.4 447.9 1305.0 436.7 1306.9 436.0 C1308.8 435.3 1311.2 444.3 1313.1 446.0 C1315.0 447.7 1316.4 446.4 1318.1 446.0 C1319.8 445.6 1322.2 443.9 1323.0 443.5" fill="none" stroke="#000" stroke-width="3" stroke-linejoin="round"/>
<path d="M99.5 673.3 C104.2 673.3 119.9 674.3 128.0 673.3 C136.1 672.3 141.3 669.9 148.0 667.5 C154.7 665.1 161.8 661.7 168.0 658.8 C174.2 655.9 179.7 652.6 185.5 650.0 C191.3 647.4 198.0 644.3 203.0 643.0 C208.0 641.7 211.8 641.9 215.5 642.0 C219.2 642.1 220.9 642.2 225.5 643.8 C230.1 645.3 237.2 648.4 243.0 651.3 C248.8 654.2 255.1 658.7 260.5 661.3 C265.9 663.9 270.9 665.6 275.5 667.0 C280.1 668.4 282.6 669.0 288.0 669.5 C293.4 670.0 304.0 671.2 308.0 670.0 C312.0 668.8 310.6 664.5 311.8 662.5 C313.1 660.5 314.1 657.7 315.5 658.0 C316.9 658.3 318.8 664.4 320.5 664.5 C322.2 664.6 323.6 659.6 325.5 658.8 C327.4 658.0 329.7 659.2 331.8 659.5 C333.9 659.8 335.7 660.6 338.0 660.5 C340.3 660.4 342.2 657.8 345.5 659.0 C348.8 660.2 353.4 665.5 358.0 667.5 C362.6 669.5 366.3 670.0 373.0 670.8 C379.7 671.6 386.9 672.0 398.0 672.5 C409.1 673.0 430.0 673.6 439.3 673.8 C448.6 674.0 451.4 673.8 453.8 673.8 M476.3 673.8 C497.8 673.7 582.9 673.4 605.0 673.0 C627.1 672.6 607.5 671.6 609.0 671.5 C610.5 671.4 598.8 672.2 613.8 672.5 C628.8 672.8 684.0 673.2 698.8 673.0 C713.6 672.8 697.3 671.7 702.5 671.3 C707.7 670.9 722.9 671.2 730.0 670.5 C737.1 669.8 739.6 668.8 745.0 667.0 C750.4 665.2 758.1 660.8 762.5 659.5 C766.9 658.2 766.3 659.5 771.3 659.3 C776.3 659.0 785.6 658.3 792.5 658.0 C799.4 657.7 808.3 657.2 812.5 657.5 C816.7 657.8 814.4 660.0 817.5 659.5 C820.6 659.0 826.9 654.2 831.3 654.5 C835.7 654.8 839.8 660.2 843.8 661.3 C847.8 662.4 851.5 661.9 855.0 661.3 C858.5 660.7 861.2 657.5 865.0 657.5 C868.8 657.5 872.9 661.1 877.5 661.3 C882.1 661.5 887.1 658.9 892.5 658.8 C897.9 658.7 904.2 659.5 910.0 660.5 C915.8 661.5 921.7 664.4 927.5 664.5 C933.3 664.6 938.8 661.0 945.0 661.3 C951.2 661.6 959.6 665.2 965.0 666.3 C970.4 667.4 973.3 667.4 977.5 668.0 C981.7 668.6 987.1 669.9 990.0 670.0 C992.9 670.1 993.0 668.8 995.0 668.5 C997.0 668.2 1000.0 669.4 1002.0 668.5 C1004.0 667.6 1005.2 666.1 1007.0 663.0 C1008.8 659.9 1011.0 653.2 1013.0 650.0 C1015.0 646.8 1017.3 644.4 1019.0 643.5 C1020.7 642.6 1021.5 643.1 1023.0 644.5 C1024.5 645.9 1026.7 649.8 1028.0 652.0 C1029.3 654.2 1028.8 656.5 1031.0 657.5 C1033.2 658.5 1038.8 658.2 1041.0 658.0 C1043.2 657.8 1042.5 656.3 1044.0 656.0 C1045.5 655.7 1047.5 657.7 1050.0 656.0 C1052.5 654.3 1056.5 648.9 1059.0 646.0 C1061.5 643.1 1063.3 639.7 1065.0 638.5 C1066.7 637.3 1067.3 638.2 1069.0 639.0 C1070.7 639.8 1073.2 643.3 1075.0 643.5 C1076.8 643.7 1078.7 641.9 1080.0 640.0 C1081.3 638.1 1082.2 635.0 1083.0 632.0 C1083.8 629.0 1084.2 625.7 1085.0 622.0 C1085.8 618.3 1087.0 614.3 1088.0 610.0 C1089.0 605.7 1089.9 600.2 1091.0 596.0 C1092.1 591.8 1093.4 587.8 1094.5 585.0 C1095.6 582.2 1096.4 578.8 1097.5 579.0 C1098.6 579.2 1099.9 582.5 1101.0 586.0 C1102.1 589.5 1103.2 595.2 1104.0 600.0 C1104.8 604.8 1105.2 609.3 1106.0 615.0 C1106.8 620.7 1107.6 627.7 1109.0 634.0 C1110.4 640.3 1112.5 648.3 1114.6 652.8 C1116.7 657.2 1119.8 659.4 1121.6 660.7 C1123.3 662.0 1123.6 662.6 1125.1 660.7 C1126.6 658.8 1128.8 652.5 1130.4 649.3 C1132.0 646.1 1133.3 640.8 1134.8 641.4 C1136.3 642.0 1137.6 649.0 1139.2 652.8 C1140.8 656.6 1142.5 662.1 1144.5 664.3 C1146.5 666.5 1149.0 665.7 1151.5 666.0 C1154.0 666.3 1157.1 667.6 1159.4 666.0 C1161.7 664.4 1163.6 658.7 1165.5 656.4 C1167.4 654.1 1169.0 652.7 1170.8 652.0 C1172.6 651.3 1174.3 653.0 1176.1 652.0 C1177.9 651.0 1179.4 648.0 1181.4 645.8 C1183.5 643.6 1186.4 639.1 1188.4 638.8 C1190.5 638.5 1191.7 640.0 1193.7 644.1 C1195.8 648.2 1198.1 659.5 1200.7 663.4 C1203.3 667.3 1204.2 667.1 1209.5 667.8 C1214.8 668.5 1226.8 668.4 1232.3 667.8 C1237.8 667.2 1240.2 666.5 1242.8 664.3 C1245.4 662.1 1246.0 659.3 1248.1 654.6 C1250.1 649.9 1253.0 637.4 1255.1 636.2 C1257.1 635.0 1258.6 643.4 1260.4 647.6 C1262.2 651.8 1263.7 659.1 1265.7 661.6 C1267.8 664.1 1269.9 663.4 1272.7 662.5 C1275.5 661.6 1279.5 656.7 1282.4 656.4 C1285.3 656.1 1287.2 660.0 1290.3 660.7 C1293.4 661.4 1297.6 661.1 1300.8 660.7 C1304.0 660.3 1305.9 658.7 1309.6 658.1 C1313.3 657.5 1320.8 657.4 1323.0 657.2" fill="none" stroke="#000" stroke-width="3" stroke-linejoin="round"/>
<path d="M99.5 768.0 C103.4 767.9 114.9 768.8 123.0 767.5 C131.1 766.2 139.7 763.3 148.0 760.0 C156.3 756.7 165.5 751.5 173.0 747.5 C180.5 743.5 186.8 739.6 193.0 736.3 C199.2 733.0 205.1 729.2 210.5 727.5 C215.9 725.8 221.3 725.8 225.5 725.8 C229.7 725.8 230.9 725.1 235.5 727.5 C240.1 729.9 246.8 735.8 253.0 740.0 C259.2 744.2 267.2 749.4 273.0 752.5 C278.8 755.6 282.4 757.2 288.0 758.8 C293.6 760.4 302.2 762.2 306.8 762.0 C311.4 761.8 312.4 759.5 315.5 757.5 C318.6 755.5 322.2 751.0 325.5 750.0 C328.8 749.0 332.6 751.5 335.5 751.3 C338.4 751.1 339.2 747.5 343.0 748.8 C346.8 750.0 353.0 756.5 358.0 758.8 C363.0 761.1 366.3 761.6 373.0 762.5 C379.7 763.4 386.9 763.8 398.0 764.3 C409.1 764.8 430.0 765.2 439.3 765.5 C448.6 765.8 451.4 765.8 453.8 765.8 M476.3 767.0 C490.7 767.2 547.7 768.1 562.5 768.0 C577.3 767.9 542.3 766.8 565.0 766.3 C587.7 765.8 675.5 765.4 698.8 765.0 C722.1 764.6 699.8 764.1 705.0 763.8 C710.2 763.5 723.3 763.8 730.0 763.0 C736.7 762.2 740.0 760.5 745.0 758.8 C750.0 757.1 754.6 754.0 760.0 753.0 C765.4 752.0 772.1 753.2 777.5 752.5 C782.9 751.8 787.1 749.3 792.5 748.8 C797.9 748.3 805.4 748.9 810.0 749.5 C814.6 750.1 810.4 752.1 820.0 752.5 C829.6 752.9 854.6 751.7 867.5 752.0 C880.4 752.3 888.3 753.8 897.5 754.5 C906.7 755.2 916.2 756.3 922.5 756.3 C928.8 756.3 927.5 754.8 935.0 754.5 C942.5 754.2 960.4 754.0 967.5 754.5 C974.6 755.0 973.8 756.5 977.5 757.5 C981.2 758.5 986.9 760.0 990.0 760.5 C993.1 761.0 994.5 760.2 996.0 760.5 C997.5 760.8 996.3 762.2 999.0 762.5 C1001.7 762.8 1009.5 762.8 1012.0 762.5 C1014.5 762.2 1012.8 760.8 1014.0 760.5 C1015.2 760.2 1016.7 762.4 1019.0 761.0 C1021.3 759.6 1026.0 754.5 1028.0 752.0 C1030.0 749.5 1029.8 748.3 1031.0 746.0 C1032.2 743.7 1033.3 740.2 1035.0 738.0 C1036.7 735.8 1039.3 733.3 1041.0 732.5 C1042.7 731.7 1043.5 732.2 1045.0 733.0 C1046.5 733.8 1047.8 736.1 1050.0 737.5 C1052.2 738.9 1055.3 740.8 1058.0 741.5 C1060.7 742.2 1063.5 742.2 1066.0 741.5 C1068.5 740.8 1070.7 739.6 1073.0 737.0 C1075.3 734.4 1078.2 729.0 1080.0 726.0 C1081.8 723.0 1082.7 722.0 1084.0 719.0 C1085.3 716.0 1086.7 711.5 1088.0 708.0 C1089.3 704.5 1090.7 701.3 1092.0 698.0 C1093.3 694.7 1094.5 691.7 1096.0 688.0 C1097.5 684.3 1099.7 678.2 1101.0 676.0 C1102.3 673.8 1103.0 674.8 1104.0 675.0 C1105.0 675.2 1106.0 675.3 1107.0 677.5 C1108.0 679.7 1108.7 683.9 1110.0 688.0 C1111.3 692.1 1112.9 696.1 1114.6 702.0 C1116.2 707.9 1118.4 719.1 1119.9 723.1 C1121.4 727.1 1121.2 726.5 1123.4 725.8 C1125.6 725.1 1130.1 718.6 1133.0 718.7 C1135.9 718.8 1138.4 724.6 1140.9 726.6 C1143.4 728.6 1145.7 728.4 1148.0 731.0 C1150.3 733.6 1152.7 738.7 1155.0 742.4 C1157.3 746.1 1159.7 751.0 1162.0 753.0 C1164.3 755.0 1166.5 756.2 1169.1 754.7 C1171.7 753.2 1174.6 747.3 1177.8 744.2 C1181.0 741.1 1185.2 736.6 1188.4 736.3 C1191.6 736.0 1194.3 739.9 1197.2 742.4 C1200.1 744.9 1203.1 749.0 1206.0 751.2 C1208.9 753.4 1211.5 756.0 1214.7 755.6 C1217.9 755.2 1222.1 750.7 1225.3 748.6 C1228.5 746.5 1231.0 744.8 1234.1 743.3 C1237.2 741.8 1240.8 739.3 1243.7 739.8 C1246.6 740.2 1248.8 744.1 1251.6 746.0 C1254.4 747.9 1256.6 750.2 1260.4 751.2 C1264.2 752.2 1269.8 752.1 1274.5 752.1 C1279.2 752.1 1284.1 751.9 1288.5 751.2 C1292.9 750.5 1295.0 748.7 1300.8 747.7 C1306.5 746.7 1319.3 745.5 1323.0 745.1" fill="none" stroke="#000" stroke-width="3" stroke-linejoin="round"/>
<path d="M99.5 853.0 C101.8 852.5 107.8 851.3 113.0 850.0 C118.2 848.7 123.8 847.5 130.5 845.0 C137.2 842.5 145.9 837.9 153.0 835.0 C160.1 832.1 166.8 829.4 173.0 827.5 C179.2 825.6 182.2 824.2 190.5 823.5 C198.8 822.8 215.1 823.0 223.0 823.5 C230.9 824.0 231.8 824.6 238.0 826.3 C244.2 828.0 253.0 831.3 260.5 833.8 C268.0 836.3 275.9 839.4 283.0 841.3 C290.1 843.2 297.6 845.0 303.0 845.0 C308.4 845.0 310.9 842.2 315.5 841.3 C320.1 840.4 325.7 839.7 330.5 839.5 C335.3 839.3 339.3 838.9 344.3 840.0 C349.3 841.1 353.6 845.0 360.5 846.3 C367.4 847.6 372.4 847.6 385.5 848.0 C398.6 848.4 427.9 848.6 439.3 848.8 C450.7 849.0 451.4 849.2 453.8 849.3 M476.3 850.0 C486.5 850.2 526.9 851.3 537.5 851.3 C548.1 851.3 534.2 850.4 540.0 850.0 C545.8 849.6 564.2 849.6 572.5 848.8 C580.8 848.0 583.8 846.2 590.0 845.0 C596.2 843.8 604.2 842.2 610.0 841.3 C615.8 840.4 619.6 839.3 625.0 839.5 C630.4 839.7 637.5 841.6 642.5 842.5 C647.5 843.4 650.0 844.2 655.0 845.0 C660.0 845.8 662.1 847.0 672.5 847.5 C682.9 848.0 705.8 848.2 717.5 848.0 C729.2 847.8 736.2 847.2 742.5 846.3 C748.8 845.4 750.2 843.2 755.0 842.5 C759.8 841.8 766.3 842.4 771.3 842.0 C776.3 841.6 779.4 840.8 785.0 840.0 C790.6 839.2 798.8 838.1 805.0 837.5 C811.2 836.9 817.5 837.3 822.5 836.3 C827.5 835.3 829.6 831.3 835.0 831.3 C840.4 831.3 848.8 835.3 855.0 836.3 C861.2 837.2 863.3 836.5 872.5 837.0 C881.7 837.5 898.8 839.0 910.0 839.5 C921.2 840.0 930.5 839.7 940.0 840.0 C949.5 840.3 960.5 842.9 967.0 841.1 C973.5 839.3 975.7 831.4 978.7 829.0 C981.7 826.6 982.5 827.7 985.1 826.7 C987.7 825.7 992.0 824.5 994.5 823.2 C997.0 821.9 998.2 820.6 1000.4 819.1 C1002.5 817.6 1005.3 814.8 1007.4 814.4 C1009.5 814.0 1011.2 815.3 1013.2 816.7 C1015.2 818.1 1017.3 821.1 1019.1 822.6 C1020.9 824.1 1021.8 825.1 1023.8 825.5 C1025.8 825.9 1029.4 825.3 1030.8 824.9 C1032.2 824.5 1029.7 823.5 1032.0 823.2 C1034.3 822.9 1041.7 824.1 1044.8 823.2 C1047.9 822.3 1048.9 820.5 1050.7 817.9 C1052.5 815.3 1053.7 811.3 1055.4 807.4 C1057.2 803.5 1059.2 798.4 1061.2 794.5 C1063.2 790.6 1064.5 787.6 1067.1 784.0 C1069.6 780.4 1073.2 775.3 1076.5 772.8 C1079.8 770.2 1084.3 770.2 1087.0 768.7 C1089.7 767.2 1090.9 764.3 1092.9 763.5 C1095.0 762.7 1097.3 762.9 1099.3 764.1 C1101.2 765.3 1102.8 767.8 1104.6 770.5 C1106.4 773.2 1107.2 777.0 1110.0 780.4 C1112.8 783.8 1118.2 786.8 1121.6 790.7 C1125.0 794.6 1126.9 800.8 1130.4 803.9 C1133.9 807.0 1139.2 808.8 1142.7 809.1 C1146.2 809.4 1148.6 804.7 1151.5 805.6 C1154.4 806.5 1157.5 812.0 1160.3 814.4 C1163.1 816.8 1165.6 820.7 1168.2 819.7 C1170.8 818.7 1173.6 812.0 1176.1 808.2 C1178.6 804.4 1180.8 796.2 1183.1 796.8 C1185.4 797.4 1187.8 808.0 1190.1 811.8 C1192.4 815.6 1194.5 820.6 1197.2 819.7 C1199.9 818.8 1203.2 809.6 1206.0 806.5 C1208.8 803.4 1211.0 800.6 1213.9 801.2 C1216.8 801.8 1220.7 809.0 1223.5 810.0 C1226.3 811.0 1227.6 807.2 1230.5 807.4 C1233.4 807.5 1237.3 809.3 1241.1 810.9 C1244.9 812.5 1249.6 815.2 1253.4 817.0 C1257.2 818.8 1259.5 820.4 1263.9 821.4 C1268.3 822.4 1275.6 823.9 1279.7 823.2 C1283.8 822.5 1286.2 818.5 1288.5 817.0 C1290.8 815.5 1291.9 814.8 1293.8 814.4 C1295.7 814.0 1297.5 815.9 1300.0 814.4 C1302.5 812.9 1306.2 806.1 1308.7 805.6 C1311.2 805.1 1312.5 810.1 1314.9 811.4 C1317.3 812.7 1321.7 813.1 1323.0 813.5" fill="none" stroke="#000" stroke-width="3" stroke-linejoin="round"/>
<path d="M99.5 951.3 C101.8 951.2 107.0 951.5 113.0 950.5 C119.0 949.5 127.6 947.2 135.5 945.0 C143.4 942.8 152.2 940.4 160.5 937.5 C168.8 934.6 178.0 930.4 185.5 927.5 C193.0 924.6 199.2 922.3 205.5 920.0 C211.8 917.7 218.8 914.7 223.0 913.8 C227.2 912.9 226.3 913.5 230.5 914.5 C234.7 915.5 242.2 917.8 248.0 920.0 C253.8 922.2 260.5 926.3 265.5 927.5 C270.5 928.7 273.8 927.1 278.0 927.0 C282.2 926.9 285.9 926.2 290.5 927.0 C295.1 927.8 301.3 931.5 305.5 932.0 C309.7 932.5 311.9 930.6 315.5 930.0 C319.1 929.4 323.1 928.1 326.8 928.3 C330.6 928.5 332.4 930.0 338.0 931.3 C343.6 932.6 354.2 935.0 360.5 936.3 C366.8 937.5 369.2 938.1 375.5 938.8 C381.8 939.5 387.4 939.7 398.0 940.5 C408.6 941.3 430.0 943.1 439.3 943.8 C448.6 944.5 451.4 944.4 453.8 944.5 M476.3 949.5 C488.6 949.5 535.6 950.2 550.0 949.5 C564.4 948.8 558.8 947.9 562.5 945.5 C566.2 943.1 569.2 939.2 572.5 935.0 C575.8 930.8 579.2 925.4 582.5 920.0 C585.8 914.6 588.8 908.8 592.5 902.5 C596.2 896.2 601.2 888.3 605.0 882.5 C608.8 876.7 611.7 870.8 615.0 867.5 C618.3 864.2 621.7 862.1 625.0 862.5 C628.3 862.9 631.2 866.2 635.0 870.0 C638.8 873.8 643.3 881.0 647.5 885.0 C651.7 889.0 656.2 891.9 660.0 893.8 C663.8 895.7 666.7 896.3 670.0 896.3 C673.3 896.3 676.2 896.5 680.0 893.8 C683.8 891.1 687.9 884.8 692.5 880.0 C697.1 875.2 702.5 868.8 707.5 865.0 C712.5 861.2 718.3 857.9 722.5 857.5 C726.7 857.1 729.2 858.3 732.5 862.5 C735.8 866.7 739.2 877.1 742.5 882.5 C745.8 887.9 747.9 892.3 752.5 895.0 C757.1 897.7 764.2 897.9 770.0 898.8 C775.8 899.7 782.9 900.6 787.5 900.5 C792.1 900.4 792.9 899.8 797.5 898.0 C802.1 896.2 810.0 891.3 815.0 890.0 C820.0 888.7 823.8 889.0 827.5 890.0 C831.2 891.0 834.0 894.3 837.5 896.3 C841.0 898.3 836.7 901.0 848.8 902.0 C860.9 903.0 898.1 902.5 910.0 902.0 C921.9 901.5 915.0 900.3 920.0 898.8 C925.0 897.3 935.4 893.8 940.0 893.0 C944.6 892.2 944.2 892.4 947.5 893.8 C950.8 895.2 954.6 898.3 960.0 901.3 C965.4 904.3 974.2 909.8 980.0 912.0 C985.8 914.2 990.0 914.1 995.0 914.3 C1000.0 914.5 1005.8 913.4 1010.0 913.3 C1014.2 913.2 1014.2 913.9 1020.0 913.8 C1025.8 913.7 1039.2 913.5 1045.0 912.5 C1050.8 911.5 1051.2 910.2 1055.0 907.5 C1058.8 904.8 1062.9 898.6 1067.5 896.3 C1072.1 894.0 1078.3 894.0 1082.5 893.8 C1086.7 893.6 1090.1 894.6 1092.5 895.0 C1094.9 895.4 1093.6 893.9 1097.0 896.1 C1100.4 898.3 1107.8 904.9 1112.8 908.4 C1117.8 911.9 1120.5 914.9 1126.9 917.2 C1133.4 919.5 1137.2 921.4 1151.5 922.4 C1165.8 923.4 1198.1 923.1 1213.0 923.3 C1227.9 923.5 1232.3 924.7 1241.1 923.8 C1249.9 922.9 1257.2 919.9 1265.7 918.1 C1274.2 916.3 1282.5 914.4 1292.0 912.8 C1301.5 911.2 1317.8 909.1 1323.0 908.4" fill="none" stroke="#000" stroke-width="3" stroke-linejoin="round"/>
</svg>
</body></html>
